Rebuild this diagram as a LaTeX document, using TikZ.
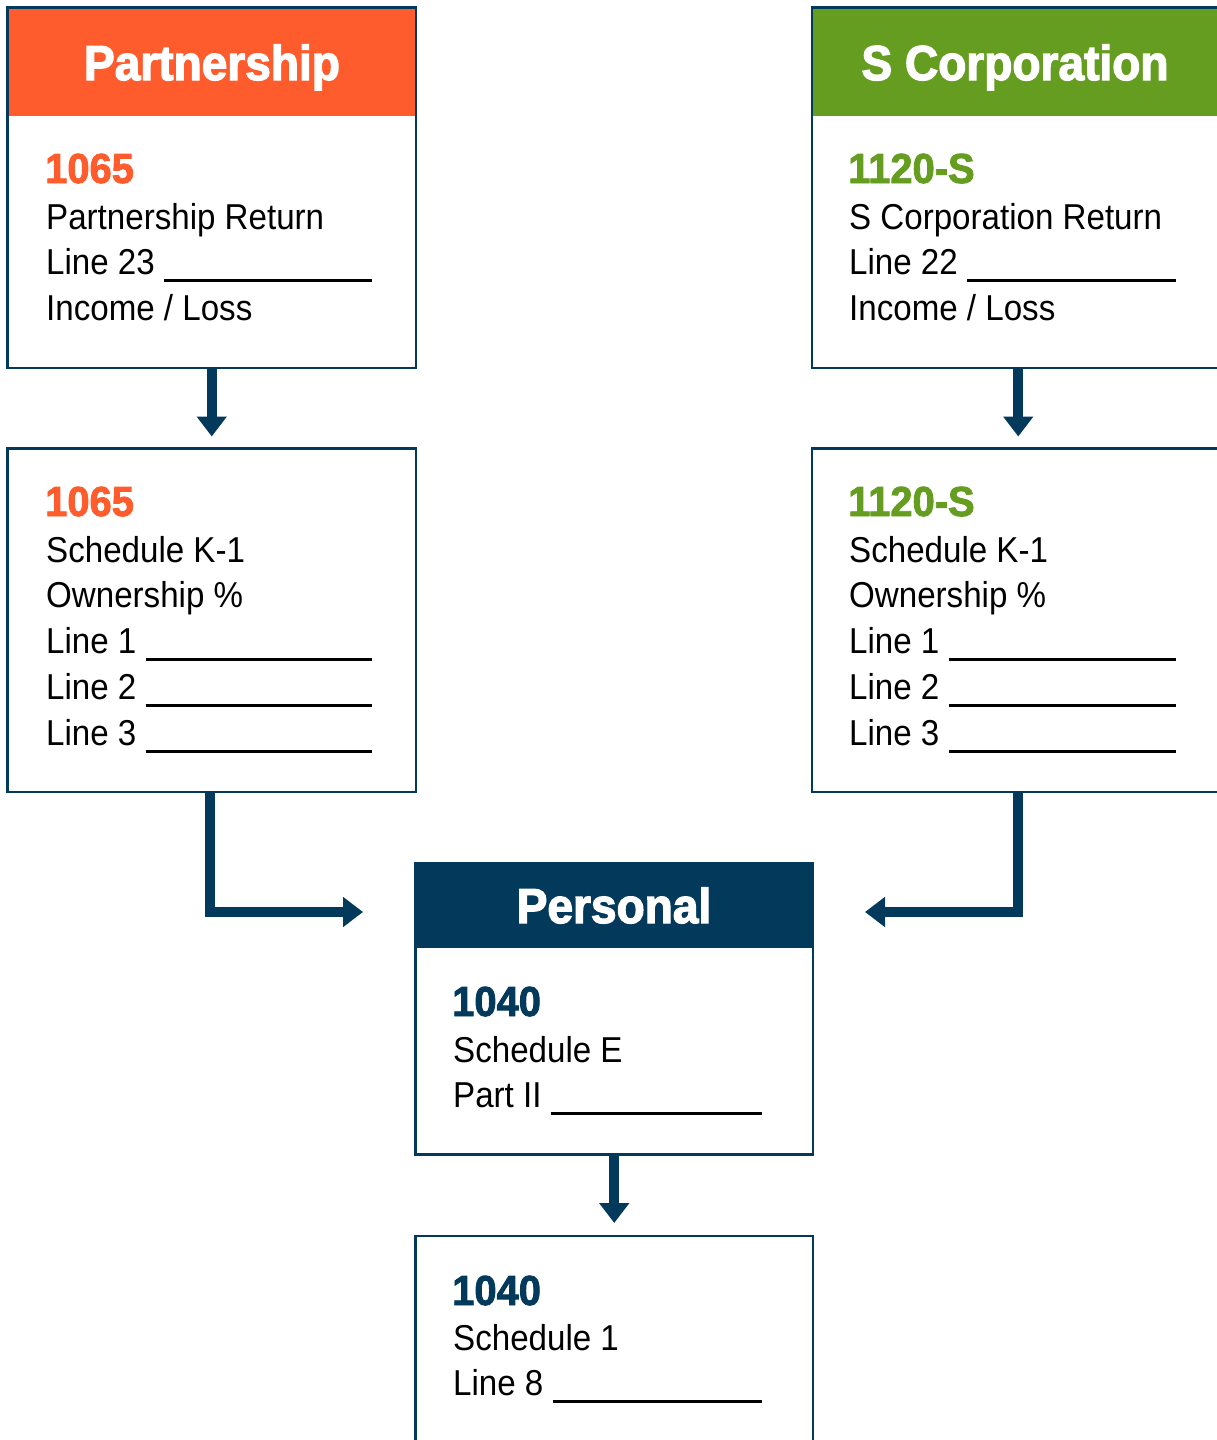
\documentclass[tikz,border=0pt]{standalone}
\usepackage{fontspec}
\usetikzlibrary{arrows.meta}
\setmainfont{Liberation Sans}[FakeStretch=0.92]
\newfontfamily\headfont{Liberation Sans Bold}[FakeStretch=0.94,FakeBold=2.6]
\newfontfamily\numfont{Liberation Sans Bold}[FakeStretch=0.95,FakeBold=2.0]
\definecolor{navy}{HTML}{033A5C}
\definecolor{orng}{HTML}{FE5C2D}
\definecolor{grn}{HTML}{659D20}
\begin{document}
\begin{tikzpicture}[x=1pt,y=-1pt,
  box/.style={draw=navy, line width=2.5pt, rectangle, inner sep=0pt, outer sep=0pt, anchor=north west},
  band/.style={rectangle, inner sep=0pt, outer sep=0pt, anchor=north west, draw=none},
  htext/.style={inner sep=0pt, anchor=base, text=white, font=\headfont\fontsize{49}{49}\selectfont},
  num/.style={inner sep=0pt, anchor=base west, font=\numfont\fontsize{42}{42}\selectfont},
  txt/.style={inner sep=0pt, anchor=base west, text=black, font=\fontsize{36}{36}\selectfont},
  rule/.style={draw=black, line width=3pt},
  flow/.style={draw=navy, line width=10pt, -{Triangle[width=29pt,length=20pt]}}]
\useasboundingbox (0,0) rectangle (1217,1440);

% ---- Partnership return
\node[band, fill=orng, minimum width=408.5pt, minimum height=108.5pt] (phead) at (7.5,7.5) {};
\node[box, minimum width=408.5pt, minimum height=360.5pt] (pbox) at (7.5,7.5) {};
\node[htext] (ptitle) at (212,80) {Partnership};
\node[num, text=orng] (pnum) at (45,183) {1065};
\node[txt] (pret) at (46,229) {Partnership Return};
\node[txt] (pl23) at (46,274) {Line 23};
\node[txt] (pinc) at (46,320) {Income / Loss};
\coordinate (prx) at (372,0);

% ---- Partnership K-1
\node[box, minimum width=408.5pt, minimum height=343.5pt] (pk1) at (7.5,448.5) {};
\node[num, text=orng] (pknum) at (45,516) {1065};
\node[txt] (pksch) at (46,562) {Schedule K-1};
\node[txt] (pkown) at (46,607) {Ownership \%};
\node[txt] (pkl1) at (46,653) {Line 1};
\node[txt] (pkl2) at (46,699) {Line 2};
\node[txt] (pkl3) at (46,745) {Line 3};

% ---- S Corporation return
\node[band, fill=grn, minimum width=408.5pt, minimum height=108.5pt] (shead) at (812,7.5) {};
\node[box, minimum width=408.5pt, minimum height=360.5pt] (sbox) at (812,7.5) {};
\node[htext] (stitle) at (1015,80) {S Corporation};
\node[num, text=grn] (snum) at (848,183) {1120-S};
\node[txt] (sret) at (849,229) {S Corporation Return};
\node[txt] (sl22) at (849,274) {Line 22};
\node[txt] (sinc) at (849,320) {Income / Loss};
\coordinate (srx) at (1176,0);

% ---- S Corporation K-1
\node[box, minimum width=408.5pt, minimum height=343.5pt] (sk1) at (812,448.5) {};
\node[num, text=grn] (sknum) at (848,516) {1120-S};
\node[txt] (sksch) at (849,562) {Schedule K-1};
\node[txt] (skown) at (849,607) {Ownership \%};
\node[txt] (skl1) at (849,653) {Line 1};
\node[txt] (skl2) at (849,699) {Line 2};
\node[txt] (skl3) at (849,745) {Line 3};

% ---- Personal: Schedule E
\node[band, fill=navy, minimum width=397.5pt, minimum height=85pt] (mhead) at (415.5,863) {};
\node[box, minimum width=397.5pt, minimum height=291.5pt] (pers) at (415.5,863) {};
\node[htext] (mtitle) at (614,923) {Personal};
\node[num, text=navy] (mnum) at (452,1016) {1040};
\node[txt] (msch) at (453,1062) {Schedule E};
\node[txt] (mpart) at (453,1107) {Part II};
\coordinate (mrx) at (762,0);

% ---- Personal: Schedule 1
\node[box, minimum width=397.5pt, minimum height=260pt] (bot) at (415.5,1236) {};
\node[num, text=navy] (bnum) at (452,1305) {1040};
\node[txt] (bsch) at (453,1350) {Schedule 1};
\node[txt] (bl8) at (453,1395) {Line 8};

% ---- blanks to fill in
\foreach \t/\e in {pl23/prx, pkl1/prx, pkl2/prx, pkl3/prx,
                   sl22/srx, skl1/srx, skl2/srx, skl3/srx,
                   mpart/mrx, bl8/mrx} {
  \path ([shift={(9,6.5)}]\t.base east) coordinate (r0);
  \draw[rule] (r0) -- (r0 -| \e);
}

% ---- flow between forms
\coordinate (pin) at (363,912);
\coordinate (sin) at (865,912);
\draw[flow, shorten >=12pt] (pbox.south) -- (pk1.north);
\draw[flow, shorten >=12pt] ([xshift=2pt]sbox.south) -- ([xshift=2pt]sk1.north);
\draw[flow] ([xshift=-2pt]pk1.south) |- (pin);
\draw[flow] ([xshift=2pt]sk1.south) |- (sin);
\draw[flow, shorten >=13pt] (pers.south) -- (bot.north);
\end{tikzpicture}
\end{document}
